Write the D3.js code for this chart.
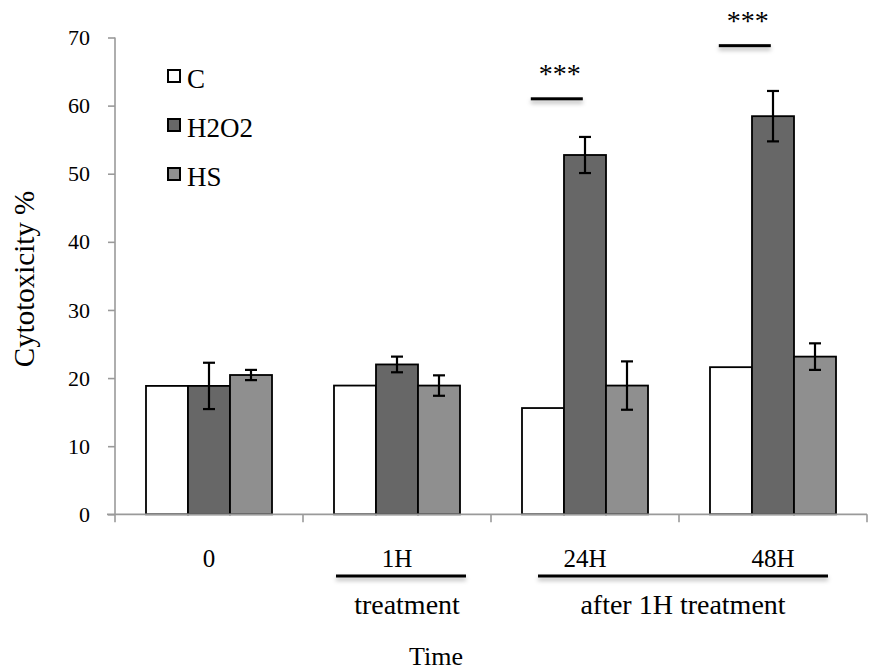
<!DOCTYPE html>
<html><head><meta charset="utf-8">
<script src="https://cdn.jsdelivr.net/npm/d3@7/dist/d3.min.js"></script>
<style>body{margin:0;background:#fff}svg{display:block}text{font-family:"Liberation Serif","Times New Roman",serif;fill:#000}</style>
</head><body><svg id="c" width="871" height="670"></svg>
<script>
const categories = ["0", "1H", "24H", "48H"];
const seriesNames = ["C", "H2O2", "HS"];
const valuesC    = [18.85, 18.9, 15.6, 21.6];
const valuesH2O2 = [18.85, 22.0, 52.75, 58.45];
const valuesHS   = [20.45, 18.9, 18.9, 23.15];
const errC    = [0, 0, 0, 0];
const errH2O2 = [3.4, 1.15, 2.65, 3.7];
const errHS   = [0.75, 1.5, 3.55, 1.95];
const yTicks = [0, 10, 20, 30, 40, 50, 60, 70];
const significance = [{cat: "24H", level: 61.0, label: "***"}, {cat: "48H", level: 68.8, label: "***"}];
const groupLabels = [{from: "1H", to: "1H", label: "treatment"}, {from: "24H", to: "48H", label: "after 1H treatment"}];
const colors = {C: "#ffffff", H2O2: "#676767", HS: "#8f8f8f"};

(function(){
const svg = d3.select("#c");
const defs = svg.append("defs");
const f = defs.append("filter").attr("id","sh").attr("x","-20%").attr("y","-300%").attr("width","140%").attr("height","800%");
f.append("feDropShadow").attr("dx",0).attr("dy",3).attr("stdDeviation",2).attr("flood-color","#000").attr("flood-opacity",0.3);

const mLeft = 115, mRight = 867, mTop = 37.5, mBottom = 514.3;
const y = d3.scaleLinear().domain([0, 70]).range([mBottom, mTop]);
const x0 = d3.scaleBand().domain(categories).range([mLeft, mRight]).padding(0);
const x1 = d3.scaleBand().domain(seriesNames).range([0, x0.bandwidth()]).paddingInner(0).paddingOuter(0.738);

const vals = {C: valuesC, H2O2: valuesH2O2, HS: valuesHS};
const errs = {C: errC, H2O2: errH2O2, HS: errHS};
const data = [];
categories.forEach((c, i) => seriesNames.forEach(s => data.push({cat: c, s, v: vals[s][i], e: errs[s][i]})));

const axisColor = "#9a9a9a";
const yAxis = svg.append("g").attr("transform", `translate(${mLeft},0)`)
  .call(d3.axisLeft(y).tickValues(yTicks).tickSize(7).tickPadding(18));
yAxis.select(".domain").remove();
yAxis.selectAll(".tick line").attr("stroke", axisColor).attr("stroke-width", 1.6);
yAxis.selectAll(".tick text").style("font-family", '"Liberation Serif",serif').style("font-size", "22px").attr("fill", "#000");
svg.append("line").attr("x1", mLeft).attr("x2", mLeft).attr("y1", mTop).attr("y2", mBottom + 8).attr("stroke", axisColor).attr("stroke-width", 1.6);

svg.append("g").selectAll("rect").data(data).join("rect")
  .attr("x", d => x0(d.cat) + x1(d.s))
  .attr("y", d => y(d.v))
  .attr("width", x1.bandwidth())
  .attr("height", d => y(0) - y(d.v))
  .attr("fill", d => colors[d.s])
  .attr("stroke", "#000").attr("stroke-width", 1.8);

svg.append("line").attr("x1", mLeft - 8).attr("x2", mRight).attr("y1", mBottom).attr("y2", mBottom).attr("stroke", axisColor).attr("stroke-width", 1.8);
const boundaries = categories.slice(1).map(c => x0(c)).concat([mRight]);
svg.append("g").selectAll("line").data(boundaries).join("line")
  .attr("x1", d => d).attr("x2", d => d).attr("y1", mBottom).attr("y2", mBottom + 8)
  .attr("stroke", axisColor).attr("stroke-width", 1.6);

const eb = svg.append("g").attr("stroke", "#000").attr("stroke-width", 2.2);
data.filter(d => d.e > 0).forEach(d => {
  const cx = x0(d.cat) + x1(d.s) + x1.bandwidth() / 2;
  eb.append("line").attr("x1", cx).attr("x2", cx).attr("y1", y(d.v + d.e)).attr("y2", y(d.v - d.e));
  [d.v + d.e, d.v - d.e].forEach(v => eb.append("line").attr("x1", cx - 6).attr("x2", cx + 6).attr("y1", y(v)).attr("y2", y(v)));
});

svg.append("g").selectAll("text").data(categories).join("text")
  .attr("x", d => x0(d) + x0.bandwidth() / 2).attr("y", 567)
  .attr("text-anchor", "middle").style("font-size", "25px").text(d => d);

function hbar(x1p, x2p, yp) {
  svg.append("rect").attr("x", x1p).attr("y", yp - 1.5).attr("width", x2p - x1p).attr("height", 3)
    .attr("fill", "#000").attr("filter", "url(#sh)");
}

groupLabels.forEach(g => {
  const single = g.from === g.to;
  const xs = x0(g.from) + (single ? 33 : 47);
  const xe = x0(g.to) + x0.bandwidth() - (single ? 25 : 39);
  hbar(xs, xe, 576);
  svg.append("text").attr("x", (xs + xe) / 2 + (single ? 6 : 0)).attr("y", 614).attr("text-anchor", "middle")
    .style("font-size", "28px").text(g.label);
});

significance.forEach(s => {
  const cx = x0(s.cat) + x0.bandwidth() * 0.35;
  const ly = y(s.level);
  hbar(cx - 26, cx + 26, ly);
  svg.append("text").attr("x", cx + 3).attr("y", ly - 16).attr("text-anchor", "middle")
    .style("font-size", "28px").attr("fill", "#333").text(s.label);
});

const lg = svg.append("g");
seriesNames.forEach((s, i) => {
  const yy = 70 + i * 49;
  lg.append("rect").attr("x", 168).attr("y", yy).attr("width", 12).attr("height", 12)
    .attr("fill", colors[s]).attr("stroke", "#000").attr("stroke-width", 2);
  lg.append("text").attr("x", 187).attr("y", yy + 18).style("font-size", "27px").text(s);
});

svg.append("text").attr("transform", "translate(34,279) rotate(-90)").attr("text-anchor", "middle")
  .style("font-size", "29px").text("Cytotoxicity %");
svg.append("text").attr("x", 436).attr("y", 665).attr("text-anchor", "middle").style("font-size", "26px").text("Time");
})();
</script></body></html>
